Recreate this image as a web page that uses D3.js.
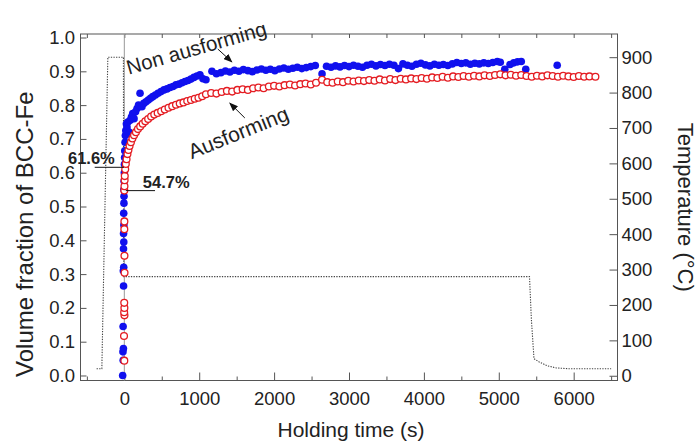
<!DOCTYPE html>
<html lang="en">
<head>
<meta charset="UTF-8">
<title>Volume fraction of BCC-Fe vs holding time</title>
<script src="https://d3js.org/d3.v7.min.js"></script>
<style>
  body { margin: 0; background: #fff; }
  svg text { font-family: "Liberation Sans", Arial, sans-serif; fill: #222; }
  .tick text { font-size: 18.5px; }
  .tick line { stroke: #555; }
</style>
</head>
<body>
<script>
// Non ausforming (blue, filled) - holding time (s) and BCC-Fe fraction
const nonTime = [-22, -15, -18, -12, -16, -10, -13, -8, -11, -7, -10, -6, -8, -5, -4, -6, -2, 0, 2, 4, 6, 10, 14, 20, 28, 36, 48, 62, 78, 95,
  112, 130, 150, 170, 190, 210, 235, 260, 290, 320, 350, 380, 415, 450, 490, 530, 570, 610, 650, 690,
  730, 770, 810, 850, 890, 930, 970, 1010, 1050, 1090,
  1170, 1230, 1290, 1350, 1410, 1470, 1530, 1590, 1650, 1710, 1770, 1830, 1890, 1950, 2010, 2070, 2130, 2190, 2250, 2310,
  2370, 2430, 2490, 2550, 2640, 2700, 2760, 2820, 2880, 2940, 3000, 3060, 3120, 3180, 3240, 3300, 3360, 3420, 3480, 3540,
  3600, 3660, 3720, 3780, 3840, 3900, 3960, 4020, 4080, 4140, 4200, 4260, 4320, 4380, 4440, 4500, 4560, 4620, 4680, 4740,
  4800, 4860, 4920, 4980, 5020, 5080, 5150, 5200, 5250, 5300, 5360, 5780];
const nonFrac = [0.0, 0.045, 0.07, 0.08, 0.145, 0.265, 0.31, 0.32, 0.375, 0.395, 0.42, 0.445, 0.48, 0.51, 0.53, 0.55, 0.575, 0.6, 0.625, 0.645,
  0.665, 0.69, 0.71, 0.725, 0.745, 0.735, 0.75, 0.72, 0.755, 0.765, 0.775, 0.76, 0.78, 0.79, 0.80, 0.835, 0.795, 0.805, 0.81, 0.815,
  0.82, 0.825, 0.83, 0.835, 0.84, 0.845, 0.848, 0.852, 0.855, 0.86, 0.862, 0.866, 0.87, 0.873, 0.877, 0.882, 0.886, 0.89, 0.878, 0.875,
  0.900, 0.893, 0.896, 0.901, 0.898, 0.903, 0.900, 0.905, 0.902, 0.899, 0.904, 0.907, 0.903, 0.906, 0.902, 0.907, 0.910, 0.906, 0.909, 0.912,
  0.908, 0.911, 0.914, 0.917, 0.893, 0.915, 0.912, 0.916, 0.913, 0.917, 0.914, 0.918, 0.915, 0.912, 0.918, 0.921, 0.916, 0.920, 0.917, 0.921,
  0.918, 0.908, 0.922, 0.918, 0.915, 0.921, 0.924, 0.919, 0.916, 0.921, 0.918, 0.920, 0.917, 0.922, 0.926, 0.923, 0.925, 0.921, 0.924, 0.922,
  0.925, 0.923, 0.926, 0.929, 0.927, 0.906, 0.920, 0.925, 0.928, 0.929, 0.906, 0.918];

// Ausforming (red, open)
const ausTime = [0, -4, 2, -2, 1, -1, 3, 2, 0, 1, 0, 2, 4, 6, 12, 20, 30, 42, 55, 70, 88, 108, 130, 155, 182, 212, 245, 280, 318, 358,
  400, 445, 492, 540, 590, 640, 690, 740, 790, 840, 890, 940, 990, 1040,
  1090, 1160, 1230, 1300, 1370, 1440, 1510, 1580, 1650, 1720, 1790, 1860, 1930, 2000, 2070, 2140, 2210, 2280, 2350, 2420,
  2490, 2560, 2640, 2710, 2780, 2850, 2920, 2990, 3060, 3130, 3200, 3270, 3340, 3410, 3480, 3550, 3620, 3690, 3760, 3830,
  3900, 3970, 4040, 4110, 4180, 4250, 4320, 4390, 4460, 4530, 4600, 4670, 4740, 4810, 4880, 4950, 5020, 5090, 5160, 5230,
  5300, 5370, 5440, 5510, 5580, 5650, 5720, 5790, 5860, 5930, 6000, 6070, 6140, 6210, 6290];
const ausFrac = [0.044, 0.117, 0.178, 0.187, 0.2, 0.215, 0.304, 0.354, 0.433, 0.456, 0.547, 0.56, 0.578, 0.59, 0.61, 0.626, 0.64, 0.655, 0.667, 0.679,
  0.69, 0.701, 0.711, 0.72, 0.729, 0.737, 0.745, 0.752, 0.759, 0.766, 0.772, 0.777, 0.782, 0.787, 0.792, 0.797, 0.801, 0.805, 0.808, 0.812,
  0.815, 0.819, 0.822, 0.826,
  0.832, 0.836, 0.834, 0.839, 0.842, 0.840, 0.845, 0.847, 0.845, 0.850, 0.852, 0.850, 0.855, 0.857, 0.855, 0.859, 0.861, 0.858, 0.862, 0.864,
  0.861, 0.866, 0.875, 0.868, 0.866, 0.870, 0.868, 0.872, 0.870, 0.873, 0.871, 0.874, 0.872, 0.876, 0.873, 0.877, 0.874, 0.878, 0.876, 0.879,
  0.877, 0.880, 0.878, 0.882, 0.880, 0.884, 0.881, 0.885, 0.883, 0.886, 0.884, 0.887, 0.885, 0.888, 0.886, 0.889, 0.891, 0.888, 0.890, 0.887,
  0.889, 0.886, 0.884, 0.887, 0.885, 0.888, 0.886, 0.884, 0.887, 0.885, 0.883, 0.886, 0.884, 0.885, 0.884];

// Heat treatment temperature profile (°C)
const tempTime = [-370, -300, -220, -12, -8, 5410, 5435, 5470, 5540, 5650, 5770, 5920, 6500];
const tempVal = [20, 20, 900, 900, 280, 280, 160, 48, 39, 28, 22, 20, 20];

// Axis ticks
const fracTicks = [0, 0.1, 0.2, 0.3, 0.4, 0.5, 0.6, 0.7, 0.8, 0.9, 1.0];
const timeTicks = [0, 1000, 2000, 3000, 4000, 5000, 6000];
const timeMinor = [-500, 500, 1500, 2500, 3500, 4500, 5500, 6500];
const tempTicks = [0, 100, 200, 300, 400, 500, 600, 700, 800, 900];

const width = 699, height = 447;
const svg = d3.select("body").append("svg")
    .attr("width", width)
    .attr("height", height);

const plotL = 80.5, plotR = 617.5, plotT = 34, plotB = 380.5;
const x = d3.scaleLinear().domain([-585, 6585]).range([plotL, plotR]);
const y = d3.scaleLinear().domain([-0.0148, 1.0104]).range([plotB, plotT]);
const yT = d3.scaleLinear().domain([-13.4, 965.5]).range([plotB, plotT]);

// arrow head
svg.append("defs").append("marker")
    .attr("id", "arrow")
    .attr("markerUnits", "userSpaceOnUse")
    .attr("markerWidth", 9).attr("markerHeight", 7)
    .attr("refX", 8).attr("refY", 3.5)
    .attr("orient", "auto")
  .append("path")
    .attr("d", "M0,0 L9,3.5 L0,7 Z")
    .attr("fill", "#111");

// axes (ticks point inward)
const noDomain = g => g.select(".domain").remove();
svg.append("g").attr("transform", `translate(${plotL},0)`)
    .call(d3.axisLeft(y).tickValues(fracTicks).tickFormat(d3.format(".1f")).tickSize(-6).tickPadding(5.5))
    .call(noDomain);
svg.append("g").attr("transform", `translate(${plotR},0)`)
    .call(d3.axisRight(yT).tickValues(tempTicks).tickSize(-8).tickPadding(4))
    .call(noDomain);
svg.append("g").attr("transform", `translate(0,${plotB})`)
    .call(d3.axisBottom(x).tickValues(timeTicks).tickFormat(d3.format("d")).tickSize(-8).tickPadding(11))
    .call(noDomain);
svg.append("g").attr("transform", `translate(0,${plotB})`)
    .call(d3.axisBottom(x).tickValues(timeMinor).tickFormat("").tickSize(-4))
    .call(noDomain);
svg.append("g").attr("transform", `translate(0,${plotT})`)
    .call(d3.axisTop(x).tickValues(timeTicks.concat(timeMinor)).tickFormat("").tickSize(-4))
    .call(noDomain);

svg.append("rect")
    .attr("x", plotL).attr("y", plotT)
    .attr("width", plotR - plotL).attr("height", plotB - plotT)
    .attr("fill", "none").attr("stroke", "#555").attr("stroke-width", 1);

// zero line at t = 0
svg.append("line")
    .attr("x1", x(0)).attr("x2", x(0))
    .attr("y1", plotT).attr("y2", plotB)
    .attr("stroke", "#999").attr("stroke-width", 1);

// temperature profile
const tempData = tempTime.map((t, i) => ({t: t, v: tempVal[i]}));
svg.append("path")
    .datum(tempData)
    .attr("fill", "none")
    .attr("stroke", "#444")
    .attr("stroke-width", 1.1)
    .attr("stroke-dasharray", "1.3,1.3")
    .attr("d", d3.line().x(d => x(d.t)).y(d => yT(d.v)));

// non ausforming points
svg.append("g").selectAll("circle")
    .data(nonTime.map((t, i) => ({t: t, v: nonFrac[i]})))
    .join("circle")
    .attr("cx", d => x(d.t))
    .attr("cy", d => y(d.v))
    .attr("r", 3.8)
    .attr("fill", "#1010ee");

// ausforming points
svg.append("g").selectAll("circle")
    .data(ausTime.map((t, i) => ({t: t, v: ausFrac[i]})))
    .join("circle")
    .attr("cx", d => x(d.t))
    .attr("cy", d => y(d.v))
    .attr("r", 3.4)
    .attr("fill", "#fff")
    .attr("stroke", "#e41c22")
    .attr("stroke-width", 1.3);

// 61.6% / 54.7% markers
svg.append("line")
    .attr("x1", x(-395)).attr("x2", x(-5))
    .attr("y1", y(0.616)).attr("y2", y(0.616))
    .attr("stroke", "#111").attr("stroke-width", 1);
svg.append("text")
    .attr("x", x(-127)).attr("y", y(0.626))
    .attr("text-anchor", "end")
    .style("font-size", "16.5px").style("font-weight", "bold")
    .text("61.6%");
svg.append("line")
    .attr("x1", x(20)).attr("x2", x(410))
    .attr("y1", y(0.547)).attr("y2", y(0.547))
    .attr("stroke", "#111").attr("stroke-width", 1);
svg.append("text")
    .attr("x", x(247)).attr("y", y(0.555))
    .style("font-size", "16.5px").style("font-weight", "bold")
    .text("54.7%");

// series labels with arrows
svg.append("text")
    .attr("transform", `translate(${x(60)},${y(0.89)}) rotate(-16)`)
    .style("font-size", "20.5px")
    .text("Non ausforming");
svg.append("line")
    .attr("x1", x(1248)).attr("y1", y(0.966))
    .attr("x2", x(1435)).attr("y2", y(0.928))
    .attr("stroke", "#111").attr("stroke-width", 1)
    .attr("marker-end", "url(#arrow)");
svg.append("text")
    .attr("transform", `translate(${x(901)},${y(0.64)}) rotate(-22)`)
    .style("font-size", "21px")
    .text("Ausforming");
svg.append("line")
    .attr("x1", x(1609)).attr("y1", y(0.762))
    .attr("x2", x(1409)).attr("y2", y(0.806))
    .attr("stroke", "#111").attr("stroke-width", 1)
    .attr("marker-end", "url(#arrow)");

// axis titles
svg.append("text")
    .attr("transform", `translate(33,${(plotT + plotB) / 2 + 27}) rotate(-90)`)
    .attr("text-anchor", "middle")
    .style("font-size", "24px")
    .text("Volume fraction of BCC-Fe");
svg.append("text")
    .attr("transform", `translate(678,${(plotT + plotB) / 2}) rotate(90)`)
    .attr("text-anchor", "middle")
    .style("font-size", "22px")
    .text("Temperature (°C)");
svg.append("text")
    .attr("x", (plotL + plotR) / 2 + 2).attr("y", 437)
    .attr("text-anchor", "middle")
    .style("font-size", "21px")
    .text("Holding time (s)");
</script>
</body>
</html>
